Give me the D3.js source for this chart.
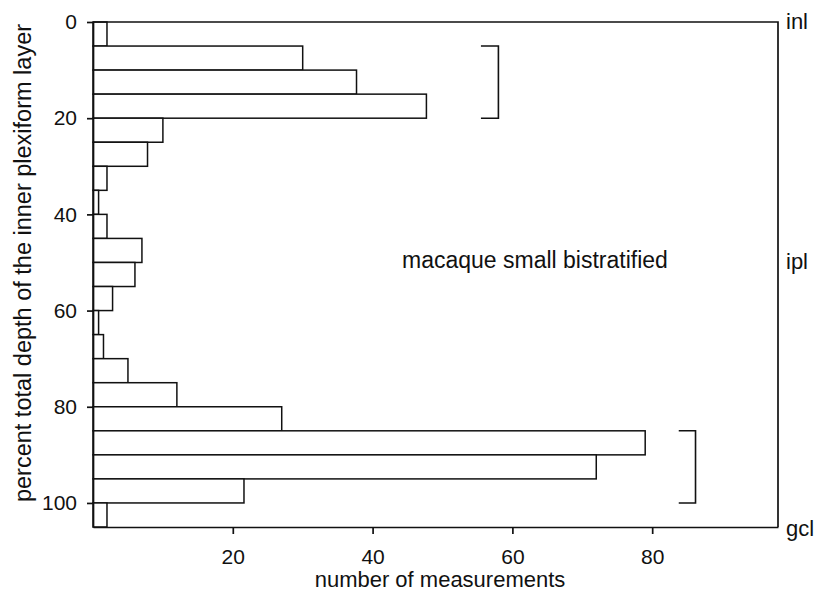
<!DOCTYPE html>
<html>
<head>
<meta charset="utf-8">
<script src="https://cdnjs.cloudflare.com/ajax/libs/d3/7.8.5/d3.min.js"></script>
<style>
body { margin: 0; background: #fff; }
text { font-family: "Liberation Sans", Arial, Helvetica, sans-serif; fill: #111; }
</style>
</head>
<body>
<script>
//wrap in a self-executing function
(function(){

//depth bins (start of each 5% bin) and counts per bin
var binStarts = [0, 5, 10, 15, 20, 25, 30, 35, 40, 45, 50, 55, 60, 65, 70, 75, 80, 85, 90, 95, 100];
var counts = [2, 30, 37.7, 47.7, 10, 7.8, 2, 0.8, 2, 7, 6, 2.8, 0.8, 1.5, 5, 12, 27, 79, 72, 21.6, 2];
var binWidth = 5;

//tick values
var yTicks = [0, 20, 40, 60, 80, 100];
var xTicks = [20, 40, 60, 80];

//brackets marking the two stratification bands
var bracketDepths = [[5, 20], [85, 100]];
var bracketCounts = [[55.5, 58], [83.8, 86.2]];

//layer labels on the right side
var layerNames = ["inl", "ipl", "gcl"];
var layerDepths = [0, 50, 105.4];

//frame
var width = 822,
    height = 597,
    left = 93,
    right = 778,
    top = 22,
    bottom = 527;

var svg = d3.select("body")
    .append("svg")
    .attr("width", width)
    .attr("height", height);

var x = d3.scaleLinear()
    .domain([0, 98])
    .range([left, right]);

var y = d3.scaleLinear()
    .domain([0, 105])
    .range([top, bottom]);

//bars
svg.selectAll(".bar")
    .data(counts)
    .enter()
    .append("rect")
    .attr("class", "bar")
    .attr("x", x(0))
    .attr("y", function(d, i){ return y(binStarts[i]); })
    .attr("width", function(d){ return x(d) - x(0); })
    .attr("height", function(d, i){ return y(binStarts[i] + binWidth) - y(binStarts[i]); })
    .style("fill", "#fff")
    .style("stroke", "#111")
    .style("stroke-width", 1.5);

//frame top, right
svg.append("path")
    .attr("d", "M" + x(0) + "," + y(0) + "H" + x(98) + "V" + y(105))
    .style("fill", "none")
    .style("stroke", "#111")
    .style("stroke-width", 1.7);

//left axis
var yAxis = svg.append("g")
    .attr("class", "axis")
    .attr("transform", "translate(" + left + ",0)")
    .call(d3.axisLeft(y).tickValues(yTicks).tickSize(6).tickPadding(10).tickSizeOuter(0));

//bottom axis
var xAxis = svg.append("g")
    .attr("class", "axis")
    .attr("transform", "translate(0," + bottom + ")")
    .call(d3.axisBottom(x).tickValues(xTicks).tickSize(7).tickPadding(15).tickSizeOuter(0));

svg.selectAll(".axis path, .axis line")
    .style("stroke", "#111")
    .style("stroke-width", 1.7);
svg.selectAll(".axis text")
    .style("font-family", "Liberation Sans, Arial, sans-serif")
    .style("font-size", "21px")
    .style("fill", "#111");

//brackets
svg.selectAll(".bracket")
    .data(bracketDepths)
    .enter()
    .append("path")
    .attr("class", "bracket")
    .attr("d", function(d, i){
        var x0 = x(bracketCounts[i][0]), x1 = x(bracketCounts[i][1]);
        return "M" + x0 + "," + y(d[0]) + "H" + x1 + "V" + y(d[1]) + "H" + x0;
    })
    .style("fill", "none")
    .style("stroke", "#111")
    .style("stroke-width", 1.6);

//layer labels
svg.selectAll(".layer")
    .data(layerNames)
    .enter()
    .append("text")
    .attr("class", "layer")
    .attr("x", 786)
    .attr("y", function(d, i){ return y(layerDepths[i]); })
    .attr("dy", "0.3em")
    .style("font-size", "22px")
    .text(function(d){ return d; });

//annotation
svg.append("text")
    .attr("x", 402)
    .attr("y", 268)
    .style("font-size", "23px")
    .text("macaque small bistratified");

//axis titles
svg.append("text")
    .attr("x", 440)
    .attr("y", 587)
    .attr("text-anchor", "middle")
    .style("font-size", "22px")
    .text("number of measurements");

svg.append("text")
    .attr("transform", "translate(31,263) rotate(-90)")
    .attr("text-anchor", "middle")
    .style("font-size", "23.5px")
    .text("percent total depth of the inner plexiform layer");

})();
</script>
</body>
</html>
